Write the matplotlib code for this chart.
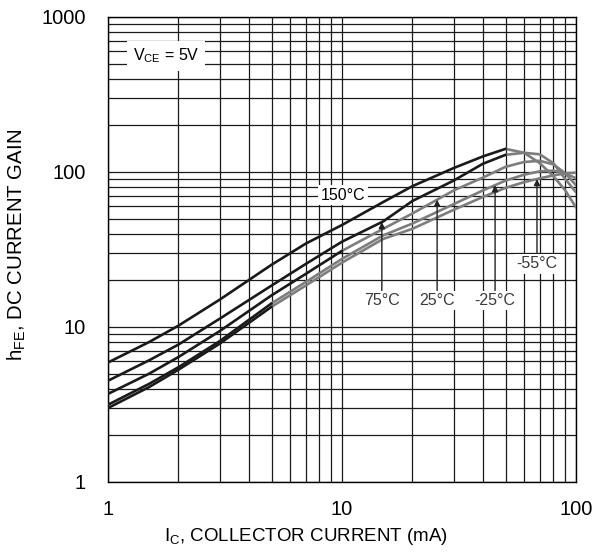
import numpy as np
import matplotlib
matplotlib.use("Agg")
import matplotlib.pyplot as plt
from matplotlib.ticker import LogLocator, NullFormatter, FixedLocator, FixedFormatter

plt.rcParams['font.family'] = ['Liberation Sans', 'DejaVu Sans']

# collector current (mA)
ic = [1, 1.5, 2, 3, 5, 7, 10, 15, 20, 30, 40, 50, 60, 70, 80, 90, 100]

# hFE, one list per ambient temperature
hfe_150 = [5.9, 8.0, 10.2, 15.0, 25.2, 34.5, 45.5, 64, 81, 106, 126, 141, 133, 114, 94, 76, 59]
hfe_75 = [4.5, 6.1, 7.7, 11.3, 18.5, 25.5, 35.5, 48, 65, 88, 113, 129, 133, 130, 114, 90, 74]
hfe_25 = [3.7, 5.0, 6.4, 9.4, 16, 22, 31, 43, 54, 76, 92, 108, 116, 118, 112, 98, 82]
hfe_m25 = [3.15, 4.3, 5.5, 8.1, 14.2, 19.5, 27.5, 39, 46.5, 62, 76, 88, 96, 101, 102, 98, 91]
hfe_m55 = [3.0, 4.1, 5.3, 7.8, 13.5, 18.5, 26, 37, 43, 57, 69, 79, 86, 91, 95, 98, 99]

labels = ["150°C", "75°C", "25°C", "-25°C", "-55°C"]
curves = [hfe_150, hfe_75, hfe_25, hfe_m25, hfe_m55]
# the scan fades each curve to grey past a certain current
black_until = [50, 50, 10, 5, 5]

# where the label arrows meet the curves (mA) and label heights
arrow_x = [None, 14.8, 25.5, 45.1, 68.1]
label_y = [71, 14.9, 14.9, 14.9, 25.5]


def hfe_at(x, ys):
    return 10 ** np.interp(np.log10(x), np.log10(ic), np.log10(ys))


fig = plt.figure(figsize=(5.92, 5.53), dpi=100)
ax = fig.add_axes([0.1824, 0.1284, 0.7906, 0.8409])

ax.set_xscale('log')
ax.set_yscale('log')
ax.set_xlim(1, 100)
ax.set_ylim(1, 1000)

ax.xaxis.set_major_locator(FixedLocator([1, 10, 100]))
ax.xaxis.set_major_formatter(FixedFormatter(["1", "10", "100"]))
ax.yaxis.set_major_locator(FixedLocator([1, 10, 100, 1000]))
ax.yaxis.set_major_formatter(FixedFormatter(["1", "10", "100", "1000"]))
for axis in (ax.xaxis, ax.yaxis):
    axis.set_minor_locator(LogLocator(base=10, subs=np.arange(2, 10), numticks=20))
    axis.set_minor_formatter(NullFormatter())

ax.grid(True, which='both', color='#1a1a1a', lw=0.9)
ax.set_axisbelow(True)
for s in ax.spines.values():
    s.set_color('black')
    s.set_linewidth(1.0)

for ys, cut in zip(curves, black_until):
    k = ic.index(cut)
    ax.plot(ic[k:], ys[k:], color='#7d7d7d', lw=1.9, zorder=3, solid_capstyle='round')
    ax.plot(ic[:k + 1], ys[:k + 1], color='#1a1a1a', lw=1.9, zorder=3, solid_capstyle='round')

ax.tick_params(axis='both', which='both', length=0, labelsize=14.5, colors='black')
ax.tick_params(axis='x', pad=13)
ax.tick_params(axis='y', pad=16)

ax.set_xlabel(r"I$_\mathregular{C}$, COLLECTOR CURRENT (mA)", fontsize=13.5)
ax.xaxis.set_label_coords(0.423, -0.095)
ax.set_ylabel(r"h$_\mathregular{FE}$, DC CURRENT GAIN", fontsize=14.7)
ax.yaxis.set_label_coords(-0.17, 0.51)

ax.text(1.77, 560, r"V$_\mathregular{CE}$ = 5V", fontsize=11.5, ha='center', va='center',
        bbox=dict(facecolor='white', edgecolor='none', pad=4), zorder=4)

ax.text(10.1, label_y[0], labels[0], fontsize=11.5, ha='center', va='center',
        bbox=dict(facecolor='white', edgecolor='none', pad=2), zorder=4)

for i in range(1, 5):
    xa = arrow_x[i]
    ya = hfe_at(xa, curves[i])
    ax.annotate(labels[i], xy=(xa, ya), xytext=(xa, label_y[i]),
                fontsize=11.5, ha='center', va='center', color='#3a3a3a', zorder=4,
                bbox=dict(facecolor='white', edgecolor='none', pad=1.5),
                arrowprops=dict(arrowstyle='-|>', color='#222222', lw=1.0,
                                mutation_scale=9, shrinkA=0, shrinkB=0))

fig.savefig("out.png", dpi=100)
